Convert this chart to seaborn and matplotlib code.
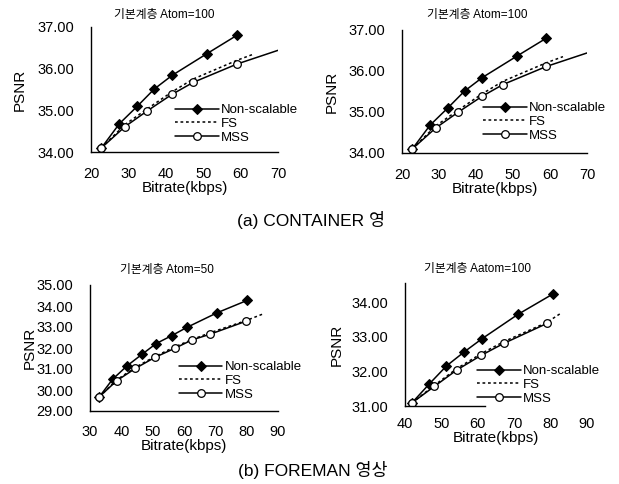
import matplotlib
matplotlib.use("Agg")
import matplotlib.pyplot as plt
import seaborn as sns

# CONTAINER sequence, base layer Atom=100 (the two upper panels show the same curves)
ct_ns_rate = [22.8, 27.6, 32.4, 36.9, 41.7, 51.0, 59.0]
ct_ns_psnr = [34.10, 34.68, 35.10, 35.51, 35.84, 36.36, 36.80]
ct_fs_rate = [22.8, 29.1, 35.1, 41.6, 47.3, 59.0, 63.5]
ct_fs_psnr = [34.10, 34.66, 35.04, 35.44, 35.75, 36.20, 36.35]
ct_mss_rate = [22.8, 29.1, 35.1, 41.6, 47.3, 59.0, 70.0]
ct_mss_psnr = [34.10, 34.61, 34.99, 35.38, 35.67, 36.11, 36.44]

# FOREMAN sequence, base layer Atom=50
fm50_ns_rate = [33.0, 37.2, 41.9, 46.6, 51.1, 56.1, 60.9, 70.6, 80.2]
fm50_ns_psnr = [29.68, 30.51, 31.16, 31.70, 32.21, 32.59, 32.98, 33.68, 34.27]
fm50_fs_rate = [33.0, 38.5, 44.5, 50.8, 57.0, 62.5, 68.2, 79.7, 85.2]
fm50_fs_psnr = [29.68, 30.48, 31.08, 31.60, 32.05, 32.40, 32.72, 33.30, 33.62]
fm50_mss_rate = [33.0, 38.5, 44.5, 50.8, 57.0, 62.5, 68.2, 79.7]
fm50_mss_psnr = [29.68, 30.44, 31.03, 31.56, 31.98, 32.38, 32.65, 33.27]

# FOREMAN sequence, base layer Aatom=100
fm100_ns_rate = [41.9, 46.6, 51.4, 56.2, 61.2, 71.0, 80.6]
fm100_ns_psnr = [31.09, 31.63, 32.16, 32.56, 32.95, 33.65, 34.24]
fm100_fs_rate = [41.9, 48.1, 54.2, 61.0, 67.1, 79.0, 82.6]
fm100_fs_psnr = [31.09, 31.60, 32.08, 32.52, 32.86, 33.42, 33.67]
fm100_mss_rate = [41.9, 48.1, 54.2, 61.0, 67.1, 79.0]
fm100_mss_psnr = [31.09, 31.57, 32.04, 32.47, 32.81, 33.39]

ct_xticks = [20, 30, 40, 50, 60, 70]
ct_yticks = [34, 35, 36, 37]
fm50_xticks = [30, 40, 50, 60, 70, 80, 90]
fm50_yticks = [29, 30, 31, 32, 33, 34, 35]
fm100_xticks = [40, 50, 60, 70, 80, 90]
fm100_yticks = [31, 32, 33, 34]

W, H = 619, 484

sns.set_style("white")
plt.rcParams["font.family"] = ["Liberation Sans", "Noto Sans CJK KR"]
plt.rcParams["text.color"] = "black"
plt.rcParams["axes.labelcolor"] = "black"
plt.rcParams["xtick.color"] = "black"
plt.rcParams["ytick.color"] = "black"

fig = plt.figure(figsize=(W / 100, H / 100), dpi=100)


def px_axes(left, top, right, bottom):
    return fig.add_axes([left / W, 1 - bottom / H, (right - left) / W, (bottom - top) / H])


def px_text(x, y, s, size):
    fig.text(x / W, 1 - y / H, s, ha="center", va="center", fontsize=size)


def panel(ax, ns, fs, mss, n_marked, xticks, yticks, ylim, xpad, ylabelpad, leg_anchor):
    lw = 1.1
    sns.lineplot(x=ns[0], y=ns[1], ax=ax, color="black", lw=lw, marker="D",
                 markersize=5, markeredgecolor="black", markerfacecolor="black",
                 label="Non-scalable")
    sns.lineplot(x=fs[0], y=fs[1], ax=ax, color="black", lw=lw,
                 linestyle=(0, (1.8, 1.8)), label="FS")
    sns.lineplot(x=mss[0], y=mss[1], ax=ax, color="black", lw=lw, marker="o",
                 markersize=5.5, markeredgecolor="black", markerfacecolor="white",
                 markeredgewidth=0.9, markevery=slice(0, n_marked), label="MSS")

    ax.set_xlim(xticks[0], xticks[-1])
    ax.set_ylim(*ylim)
    ax.set_xticks(xticks)
    ax.set_yticks(yticks)
    ax.set_yticklabels([f"{v:.2f}" for v in yticks])
    ax.tick_params(axis="y", length=0, pad=12, labelsize=10.5)
    ax.tick_params(axis="x", length=0, pad=xpad, labelsize=10.5)
    ax.set_xlabel("Bitrate(kbps)", fontsize=11, labelpad=0)
    ax.set_ylabel("PSNR", fontsize=11, labelpad=ylabelpad)
    for side in ["top", "right"]:
        ax.spines[side].set_visible(False)
    for side in ["left", "bottom"]:
        ax.spines[side].set_color("black")
        ax.spines[side].set_linewidth(1.0)
    ax.grid(False)
    ax.legend(loc="upper left", bbox_to_anchor=leg_anchor, frameon=False,
              fontsize=9.5, handlelength=3.3, handletextpad=0.2,
              labelspacing=0.12, borderpad=0, borderaxespad=0)


ct_ns = (ct_ns_rate, ct_ns_psnr)
ct_fs = (ct_fs_rate, ct_fs_psnr)
ct_mss = (ct_mss_rate, ct_mss_psnr)

ax1 = px_axes(91, 27, 278, 152)
panel(ax1, ct_ns, ct_fs, ct_mss, 6, ct_xticks, ct_yticks, (34, 37), 11, 8, (0.449, 0.384))
px_text(164, 15, "기본계층 Atom=100", 8.5)

ax2 = px_axes(402, 30, 587, 153)
panel(ax2, ct_ns, ct_fs, ct_mss, 6, ct_xticks, ct_yticks, (34, 37), 11, 7, (0.438, 0.415))
px_text(477, 15, "기본계층 Atom=100", 8.5)

ax3 = px_axes(90, 285, 278, 411)
panel(ax3, (fm50_ns_rate, fm50_ns_psnr), (fm50_fs_rate, fm50_fs_psnr),
      (fm50_mss_rate, fm50_mss_psnr), len(fm50_mss_rate), fm50_xticks, fm50_yticks,
      (29, 35), 10, 0, (0.473, 0.397))
px_text(167, 270, "기본계층 Atom=50", 8.5)

ax4 = px_axes(405, 283, 587, 406)
panel(ax4, (fm100_ns_rate, fm100_ns_psnr), (fm100_fs_rate, fm100_fs_psnr),
      (fm100_mss_rate, fm100_mss_psnr), len(fm100_mss_rate), fm100_xticks, fm100_yticks,
      (31, 34.56), 8, 6, (0.396, 0.333))
ax4.spines["bottom"].set_bounds(40, 62)
px_text(477, 269, "기본계층 Aatom=100", 8.5)

px_text(311, 220, "(a) CONTAINER 영", 12.5)
px_text(313, 470, "(b) FOREMAN 영상", 12.5)

fig.savefig("out.png", dpi=100)
